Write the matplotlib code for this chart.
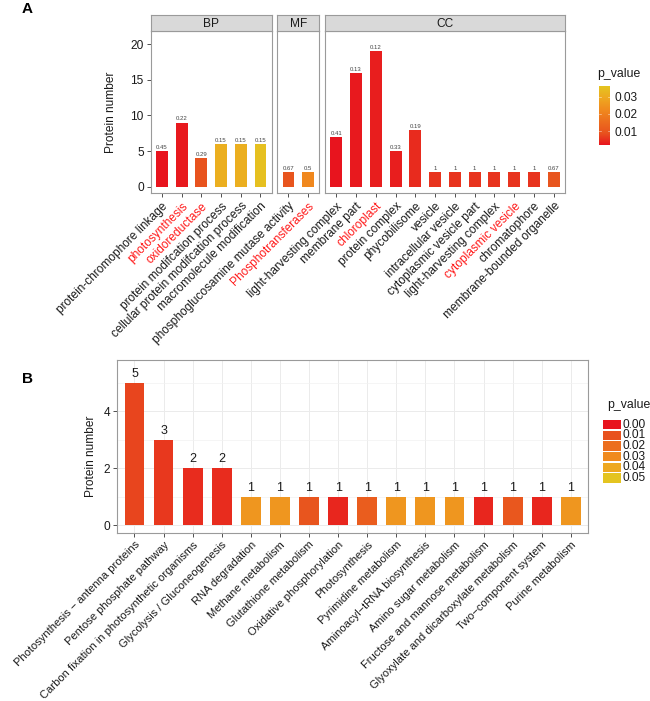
import numpy as np
import matplotlib
matplotlib.use('Agg')
import matplotlib.pyplot as plt
from matplotlib.colors import LinearSegmentedColormap, Normalize
from matplotlib.colorbar import ColorbarBase

plt.rcParams['font.family'] = ['Liberation Sans', 'DejaVu Sans']

# ---- data, panel A (GO terms) ----
bp_terms = ['protein-chromophore linkage', 'photosynthesis', 'oxidoreductase',
            'protein modifcation process', 'cellular protein modifcation process',
            'macromolecule modification']
bp_counts = [5, 9, 4, 6, 6, 6]
bp_ratio = ['0.45', '0.22', '0.29', '0.15', '0.15', '0.15']
bp_p = [0.002, 0.0025, 0.009, 0.031, 0.031, 0.035]

mf_terms = ['phosphoglucosamine mutase activity', 'Phosphotransferases']
mf_counts = [2, 2]
mf_ratio = ['0.67', '0.5']
mf_p = [0.0095, 0.022]

cc_terms = ['light-harvesting complex', 'membrane part', 'chloroplast', 'protein complex',
            'phycobilisome', 'vesicle', 'intracellular vesicle', 'cytoplasmic vesicle part',
            'light-harvesting complex', 'cytoplasmic vesicle', 'chromatophore',
            'membrane-bounded organelle']
cc_counts = [7, 16, 19, 5, 8, 2, 2, 2, 2, 2, 2, 2]
cc_ratio = ['0.41', '0.13', '0.12', '0.33', '0.19', '1', '1', '1', '1', '1', '1', '0.67']
cc_p = [0.002, 0.0025, 0.003, 0.003, 0.0045, 0.0055, 0.0055, 0.0055, 0.0055,
        0.0055, 0.0055, 0.0095]

red_terms = ['photosynthesis', 'oxidoreductase', 'Phosphotransferases',
             'chloroplast', 'cytoplasmic vesicle']

# ---- data, panel B (KEGG pathways) ----
kegg_terms = ['Photosynthesis \u2212 antenna proteins', 'Pentose phosphate pathway',
              'Carbon fixation in photosynthetic organisms', 'Glycolysis / Gluconeogenesis',
              'RNA degradation', 'Methane metabolism', 'Glutathione metabolism',
              'Oxidative phosphorylation', 'Photosynthesis', 'Pyrimidine metabolism',
              'Aminoacyl\u2212tRNA biosynthesis', 'Amino sugar metabolism',
              'Fructose and mannose metabolism', 'Glyoxylate and dicarboxylate metabolism',
              'Two\u2212component system', 'Purine metabolism']
kegg_counts = [5, 3, 2, 2, 1, 1, 1, 1, 1, 1, 1, 1, 1, 1, 1, 1]
kegg_p = [0.008, 0.006, 0.004, 0.004, 0.034, 0.034, 0.011, 0.003, 0.014,
          0.034, 0.034, 0.034, 0.003, 0.012, 0.003, 0.034]
legend_breaks = [0.00, 0.01, 0.02, 0.03, 0.04, 0.05]

# red -> yellow gradient like ggplot's scale_fill_gradient
cmap = LinearSegmentedColormap.from_list(
    'ry', ['#E8141E', '#E8521E', '#EC6E1E', '#F08A1E', '#EEA820', '#E4C420'])
norm_a = Normalize(0.0019, 0.0362)
norm_b = Normalize(0.0, 0.05)

W, H = 650, 701
fig = plt.figure(figsize=(W / 100, H / 100), dpi=100)


def px(x0, y0, x1, y1):
    return [x0 / W, 1 - y1 / H, (x1 - x0) / W, (y1 - y0) / H]


border = '#9A9A9A'
tickc = '#333333'


def style_ax(ax):
    for s in ax.spines.values():
        s.set_color(border)
        s.set_linewidth(0.8)
    ax.tick_params(colors=tickc, length=3, width=0.6, labelsize=8.6, pad=2)


# ---------------- panel A ----------------
facets = [('BP', bp_terms, bp_counts, bp_ratio, bp_p, 150.7, 271.7),
          ('MF', mf_terms, mf_counts, mf_ratio, mf_p, 277.3, 319.3),
          ('CC', cc_terms, cc_counts, cc_ratio, cc_p, 325, 565)]
top_a, bot_a, strip_top = 30.7, 193.3, 15.3

for i, (name, terms, counts, ratio, pv, x0, x1) in enumerate(facets):
    ax = fig.add_axes(px(x0, top_a, x1, bot_a))
    xs = np.arange(len(terms))
    ax.bar(xs, counts, width=0.6, color=cmap(norm_a(np.array(pv))), zorder=2)
    for x, c, r in zip(xs, counts, ratio):
        ax.annotate(r, (x, c), xytext=(0, 0.8), textcoords='offset points',
                    ha='center', va='bottom', fontsize=4.3, color='#444444')
    ax.set_xlim(-0.57, len(terms) - 0.43)
    ax.set_ylim(-0.93, 21.9)
    style_ax(ax)
    ax.set_xticks(xs)
    ax.set_xticklabels(terms, rotation=45, ha='right', va='top',
                       rotation_mode='anchor', fontsize=8.6)
    for lab in ax.get_xticklabels():
        lab.set_color('#FF1A1A' if lab.get_text() in red_terms else '#1a1a1a')
    if i == 0:
        ax.set_yticks([0, 5, 10, 15, 20])
        for lab in ax.get_yticklabels():
            lab.set_color('#1a1a1a')
    else:
        ax.set_yticks([])
    # facet strip
    sax = fig.add_axes(px(x0, strip_top, x1, top_a))
    sax.set_facecolor('#D9D9D9')
    sax.set_xticks([])
    sax.set_yticks([])
    for s in sax.spines.values():
        s.set_color(border)
        s.set_linewidth(0.8)
    sax.text(0.5, 0.45, name, ha='center', va='center', fontsize=8.6,
             color='#1a1a1a', transform=sax.transAxes)

fig.text(111 / W, 1 - 112 / H, 'Protein number', rotation=90, ha='center',
         va='center', fontsize=8.6, color='#1a1a1a')
fig.text(22 / W, 1 - 9 / H, 'A', fontsize=11, fontweight='bold', va='center')

# colourbar legend A
cax = fig.add_axes(px(598.7, 86, 610, 145))
cb = ColorbarBase(cax, cmap=cmap, norm=norm_a, orientation='vertical')
cb.outline.set_visible(False)
cb.set_ticks([0.01, 0.02, 0.03])
cb.set_ticklabels(['0.01', '0.02', '0.03'])
cax.tick_params(length=0, labelsize=8.6, pad=3, colors='#1a1a1a')
for t in [0.01, 0.02, 0.03]:
    cax.plot([0.0, 0.2], [t, t], color='white', lw=0.5, alpha=0.6,
             transform=cax.get_yaxis_transform())
    cax.plot([0.8, 1.0], [t, t], color='white', lw=0.5, alpha=0.6,
             transform=cax.get_yaxis_transform())
fig.text(597 / W, 1 - 74 / H, 'p_value', fontsize=8.8, va='center', color='#1a1a1a')

# ---------------- panel B ----------------
axb = fig.add_axes(px(117.3, 360, 588, 532.7))
xb = np.arange(len(kegg_terms))
axb.bar(xb, kegg_counts, width=0.68, color=cmap(norm_b(np.array(kegg_p))), zorder=2)
for x, c in zip(xb, kegg_counts):
    axb.annotate(str(c), (x, c), xytext=(0, 2), textcoords='offset points',
                 ha='center', va='bottom', fontsize=9, color='#1a1a1a')
axb.set_xlim(-0.59, len(kegg_terms) - 0.41)
axb.set_ylim(-0.27, 5.8)
axb.set_yticks([0, 2, 4])
axb.set_yticks([1, 3, 5], minor=True)
axb.grid(which='major', color='#EBEBEB', lw=0.7, zorder=0)
axb.grid(which='minor', axis='y', color='#F2F2F2', lw=0.5, zorder=0)
axb.tick_params(which='minor', length=0)
axb.set_axisbelow(True)
style_ax(axb)
axb.set_xticks(xb)
axb.set_xticklabels(kegg_terms, rotation=45, ha='right', va='top',
                    rotation_mode='anchor', fontsize=8.0, color='#1a1a1a')
for lab in axb.get_yticklabels():
    lab.set_color('#1a1a1a')
fig.text(91.5 / W, 1 - 456 / H, 'Protein number', rotation=90, ha='center',
         va='center', fontsize=8.6, color='#1a1a1a')
fig.text(22 / W, 1 - 379 / H, 'B', fontsize=11, fontweight='bold', va='center')

# discrete legend B
lax = fig.add_axes(px(603.3, 419.3, 620.7, 483.3))
keys = np.arange(len(legend_breaks))
lax.barh(keys, 1, height=0.9, color=cmap(norm_b(np.array(legend_breaks))))
lax.set_ylim(len(legend_breaks) - 0.5, -0.5)
lax.set_xlim(0, 1)
lax.axis('off')
for k, b in zip(keys, legend_breaks):
    lax.text(1.12, k, '%.2f' % b, transform=lax.get_yaxis_transform(),
             ha='left', va='center', fontsize=8.6, color='#1a1a1a')
fig.text(606.7 / W, 1 - 405 / H, 'p_value', fontsize=8.8, va='center', color='#1a1a1a')

fig.savefig('out.png', dpi=100)
